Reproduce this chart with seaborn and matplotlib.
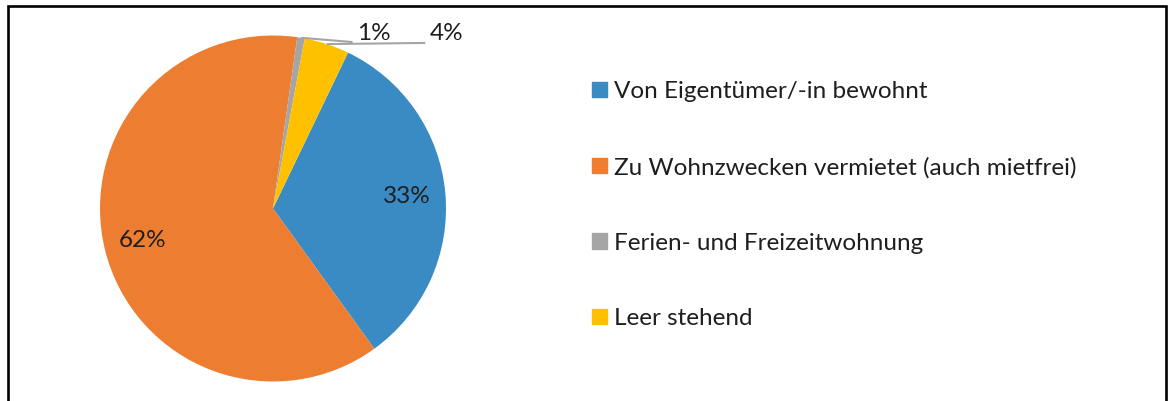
import matplotlib.pyplot as plt
import matplotlib.patches as mpatches
import numpy as np
import seaborn as sns

# shares of dwellings by use
categories = ["Von Eigentümer/-in bewohnt",
              "Zu Wohnzwecken vermietet (auch mietfrei)",
              "Ferien- und Freizeitwohnung",
              "Leer stehend"]
shares = [32.9, 62.2, 0.7, 4.2]
labels = ["33%", "62%", "1%", "4%"]

sns.set_theme(style="white")
plt.rcParams['font.family'] = ['Lato', 'DejaVu Sans']
colors = sns.color_palette(["#3A8AC4", "#ED7D31", "#A5A5A5", "#FFC000"])

fig = plt.figure(figsize=(11.73, 4.01), dpi=100)
# square axes so that radius 1 is ~173 px, centred at (273, 208) px
r_px = 173
half = 1.2 * r_px
ax = fig.add_axes([(273 - half) / 1173, (401 - 208.5 - half) / 401,
                   2 * half / 1173, 2 * half / 401])

wedges, _ = ax.pie(shares, colors=colors, startangle=64.3, counterclock=False,
                   wedgeprops=dict(linewidth=0))
ax.set_xlim(-1.2, 1.2)
ax.set_ylim(-1.2, 1.2)
ax.set_aspect("equal")
ax.axis("off")

fs = 17.5
# labels inside the two large slices
for w, lab in zip(wedges[:2], labels[:2]):
    ang = np.deg2rad((w.theta1 + w.theta2) / 2)
    ax.text(0.775 * np.cos(ang), 0.775 * np.sin(ang), lab, ha="center",
            va="center", fontsize=fs, color="#1e1e1e")

# small slices: labels above the pie with leader lines
for w, lab, tx, ly in zip(wedges[2:], labels[2:], [0.485, 0.905], [0.962, 0.957]):
    ang = np.deg2rad((w.theta1 + w.theta2) / 2)
    x0, y0 = np.cos(ang), np.sin(ang)
    ax.plot([x0, tx - 0.025], [y0, ly], color="#A5A5A5", lw=1.5,
            clip_on=False, solid_capstyle="butt")
    ax.text(tx, 1.012, lab, ha="left", va="center", fontsize=fs,
            color="#1e1e1e", clip_on=False)

handles = [mpatches.Patch(color=c) for c in colors]
fig.legend(handles, categories, loc="upper left",
           bbox_to_anchor=(580 / 1173, 1 - 69 / 401), frameon=False,
           fontsize=fs, handlelength=0.61, handleheight=0.61,
           handletextpad=0.3, labelspacing=2.24, borderpad=0,
           labelcolor="#1e1e1e")

# outer chart border (bottom edge lies outside the picture)
fig.add_artist(mpatches.Rectangle((8 / 1173, -0.05), (1166 - 8) / 1173,
                                  1.05 - 6.5 / 401, transform=fig.transFigure,
                                  fill=False, edgecolor="black", lw=1.9,
                                  clip_on=False))

fig.savefig("out.png", dpi=100)
